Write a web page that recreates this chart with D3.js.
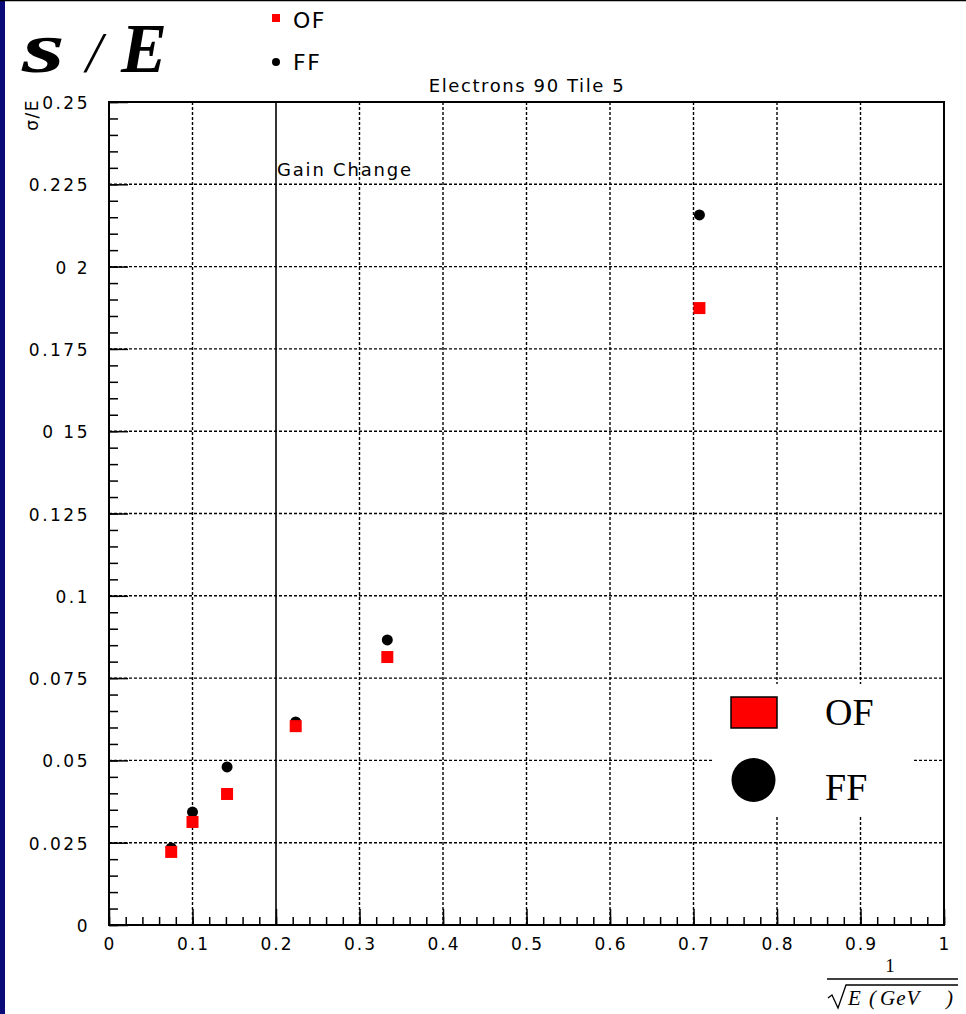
<!DOCTYPE html>
<html>
<head>
<meta charset="utf-8">
<script src="https://cdn.jsdelivr.net/npm/d3@7"></script>
<style>
  html, body { margin: 0; padding: 0; background: #fff; }
  svg { display: block; }
</style>
</head>
<body>
<svg id="chart" width="966" height="1014"></svg>
<script>
// Energy points as 1/sqrt(E [GeV]) for E = 180, 100, 50, 20, 9, 2
const xValues = [0.0745, 0.1, 0.1414, 0.2236, 0.3333, 0.7071];
// Resolution sigma/E for the two reconstruction methods
const ofValues = [0.0222, 0.0313, 0.0398, 0.0604, 0.0814, 0.1874];
const ffValues = [0.0234, 0.0343, 0.0480, 0.0617, 0.0866, 0.2157];

const xTicks = [0, 0.1, 0.2, 0.3, 0.4, 0.5, 0.6, 0.7, 0.8, 0.9, 1];
const xTickLabels = ["0", "0.1", "0.2", "0.3", "0.4", "0.5", "0.6", "0.7", "0.8", "0.9", "1"];
const yTicks = [0, 0.025, 0.05, 0.075, 0.1, 0.125, 0.15, 0.175, 0.2, 0.225, 0.25];
const yTickLabels = ["0", "0.025", "0.05", "0.075", "0.1", "0.125", "0 15", "0.175", "0 2", "0.225", "0.25"];
const gainChangeX = 0.2;

const svg = d3.select("#chart");
const plot = { left: 109, right: 944, top: 102, bottom: 925 };

const x = d3.scaleLinear().domain([0, 1]).range([plot.left, plot.right]);
const y = d3.scaleLinear().domain([0, 0.25]).range([plot.bottom, plot.top]);

const sans = "'DejaVu Sans', 'Liberation Sans', sans-serif";
const serif = "'Liberation Serif', 'DejaVu Serif', serif";

// page decorations: navy strip at the left edge and a rule along the top
svg.append("rect").attr("x", 0).attr("y", 0).attr("width", 5).attr("height", 1014).attr("fill", "#0a0a78");
svg.append("line").attr("x1", 0).attr("x2", 966).attr("y1", 0.5).attr("y2", 0.5).attr("stroke", "#000").attr("stroke-width", 1.5);

// dotted grid at the major ticks (the gain-change line is drawn solid instead)
const grid = svg.append("g").attr("stroke", "#000").attr("stroke-width", 1.4).attr("stroke-dasharray", "3,2");
grid.selectAll("line.gx").data(xTicks.filter(t => t > 0 && t < 1 && Math.abs(t - gainChangeX) > 1e-9))
  .join("line").attr("class", "gx")
  .attr("x1", d => x(d)).attr("x2", d => x(d)).attr("y1", plot.top).attr("y2", plot.bottom);
grid.selectAll("line.gy").data(yTicks.filter(t => t > 0 && t < 0.25))
  .join("line").attr("class", "gy")
  .attr("x1", plot.left).attr("x2", plot.right).attr("y1", d => y(d)).attr("y2", d => y(d));

// gain change marker
svg.append("line")
  .attr("x1", x(gainChangeX)).attr("x2", x(gainChangeX))
  .attr("y1", plot.top).attr("y2", plot.bottom)
  .attr("stroke", "#000").attr("stroke-width", 1.6);
svg.append("text").attr("x", x(gainChangeX) + 1).attr("y", 176)
  .attr("font-family", sans).attr("font-size", 18).attr("letter-spacing", 1.8).attr("fill", "#000")
  .text("Gain Change");

// inward tick marks with d3 axes
const xMinor = d3.range(0, 1.0001, 0.02);
const yMinor = d3.range(0, 0.25001, 0.005);

const xAxisMinor = d3.axisTop(x).tickValues(xMinor).tickSize(8).tickFormat("");
const xAxisMajor = d3.axisTop(x).tickValues(xTicks).tickSize(16).tickFormat("");
const yAxisMinor = d3.axisRight(y).tickValues(yMinor).tickSize(9).tickFormat("");
const yAxisMajor = d3.axisRight(y).tickValues(yTicks).tickSize(19).tickFormat("");

function styleAxis(g) {
  g.select(".domain").remove();
  g.selectAll(".tick line").attr("stroke", "#000").attr("stroke-width", 1.5);
}
svg.append("g").attr("transform", `translate(0,${plot.bottom})`).call(xAxisMinor).call(styleAxis);
svg.append("g").attr("transform", `translate(0,${plot.bottom})`).call(xAxisMajor).call(styleAxis);
svg.append("g").attr("transform", `translate(${plot.left},0)`).call(yAxisMinor).call(styleAxis);
svg.append("g").attr("transform", `translate(${plot.left},0)`).call(yAxisMajor).call(styleAxis);

// tick labels
svg.append("g").selectAll("text").data(xTicks).join("text")
  .attr("x", d => x(d) + 1).attr("y", 950)
  .attr("text-anchor", "middle").attr("font-family", sans).attr("font-size", 17)
  .attr("letter-spacing", 2).attr("fill", "#000")
  .text((d, i) => xTickLabels[i]);
svg.append("g").selectAll("text").data(yTicks).join("text")
  .attr("x", 90).attr("y", d => y(d) + 7)
  .attr("text-anchor", "end").attr("font-family", sans).attr("font-size", 17)
  .attr("letter-spacing", 2.5).attr("fill", "#000")
  .text((d, i) => yTickLabels[i]);

// frame
svg.append("rect")
  .attr("x", plot.left).attr("y", plot.top)
  .attr("width", plot.right - plot.left).attr("height", plot.bottom - plot.top)
  .attr("fill", "none").attr("stroke", "#000").attr("stroke-width", 2);

// markers: FF underneath, OF on top
svg.append("g").selectAll("circle").data(xValues).join("circle")
  .attr("cx", d => x(d)).attr("cy", (d, i) => y(ffValues[i]))
  .attr("r", 5.5).attr("fill", "#000");
svg.append("g").selectAll("rect").data(xValues).join("rect")
  .attr("x", d => x(d) - 6).attr("y", (d, i) => y(ofValues[i]) - 6)
  .attr("width", 12).attr("height", 12).attr("fill", "#ff0000");

// plot title
svg.append("text").attr("x", 527).attr("y", 92)
  .attr("text-anchor", "middle").attr("font-family", sans).attr("font-size", 18)
  .attr("letter-spacing", 1.6).attr("fill", "#000")
  .text("Electrons 90 Tile 5");

// y axis title
svg.append("text")
  .attr("transform", "translate(38,99) rotate(-90)")
  .attr("text-anchor", "end").attr("font-family", sans).attr("font-size", 17)
  .attr("letter-spacing", 1.5).attr("fill", "#000")
  .text("σ/E");

// large heading
svg.append("text").attr("x", 22).attr("y", 72).attr("font-family", serif)
  .attr("font-size", 72).attr("font-weight", "bold").attr("font-style", "italic").attr("fill", "#000")
  .attr("textLength", 43).attr("lengthAdjust", "spacingAndGlyphs").text("s");
svg.append("text").attr("x", 86).attr("y", 72).attr("font-family", serif)
  .attr("font-size", 58).attr("font-style", "italic").attr("fill", "#000").text("/");
svg.append("text").attr("x", 121).attr("y", 72).attr("font-family", serif)
  .attr("font-size", 70).attr("font-weight", "bold").attr("font-style", "italic").attr("fill", "#000")
  .attr("textLength", 46).attr("lengthAdjust", "spacingAndGlyphs").text("E");

// small legend at the top
svg.append("rect").attr("x", 272).attr("y", 14).attr("width", 8).attr("height", 8).attr("fill", "#ff0000");
svg.append("text").attr("x", 293).attr("y", 28).attr("font-family", sans).attr("font-size", 22)
  .attr("letter-spacing", 1.5).attr("fill", "#000").text("OF");
svg.append("circle").attr("cx", 276).attr("cy", 62).attr("r", 4).attr("fill", "#000");
svg.append("text").attr("x", 293).attr("y", 70).attr("font-family", sans).attr("font-size", 22)
  .attr("letter-spacing", 1.5).attr("fill", "#000").text("FF");

// large legend inside the plot
svg.append("rect").attr("x", 714).attr("y", 684).attr("width", 200).attr("height", 133).attr("fill", "#fff");
svg.append("rect").attr("x", 731).attr("y", 697).attr("width", 46).attr("height", 31)
  .attr("fill", "#ff0000").attr("stroke", "#000").attr("stroke-width", 1.5);
svg.append("text").attr("x", 825).attr("y", 725).attr("font-family", serif).attr("font-size", 38).attr("fill", "#000").text("OF");
svg.append("circle").attr("cx", 753.5).attr("cy", 780).attr("r", 22).attr("fill", "#000");
svg.append("text").attr("x", 825).attr("y", 800).attr("font-family", serif).attr("font-size", 38).attr("fill", "#000").text("FF");

// x axis title: 1 / sqrt(E (GeV))
svg.append("text").attr("x", 890).attr("y", 972).attr("text-anchor", "middle")
  .attr("font-family", serif).attr("font-size", 19).attr("fill", "#000").text("1");
svg.append("line").attr("x1", 827).attr("x2", 958).attr("y1", 979).attr("y2", 979).attr("stroke", "#000").attr("stroke-width", 1.5);
svg.append("path").attr("d", "M828,998 L832,995 L838,1008 L846,985 L958,985")
  .attr("fill", "none").attr("stroke", "#000").attr("stroke-width", 1.3);
const unit = svg.append("g").attr("font-family", serif).attr("font-size", 21)
  .attr("font-style", "italic").attr("fill", "#000");
unit.append("text").attr("x", 848).attr("y", 1005).text("E");
unit.append("text").attr("x", 869).attr("y", 1005).text("(");
unit.append("text").attr("x", 880).attr("y", 1005).attr("letter-spacing", 1).text("GeV");
unit.append("text").attr("x", 946).attr("y", 1005).text(")");
</script>
</body>
</html>
